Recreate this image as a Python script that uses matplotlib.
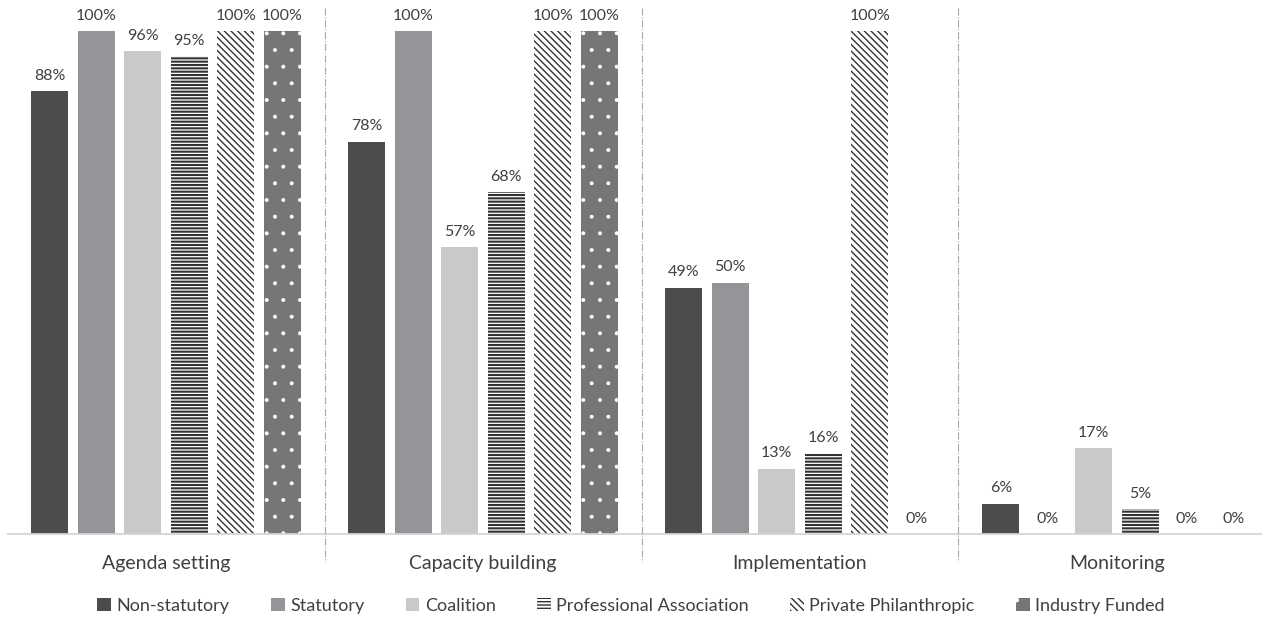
import numpy as np
import matplotlib.pyplot as plt

plt.rcParams['font.family'] = ['Lato', 'DejaVu Sans']

categories = ['Agenda setting', 'Capacity building', 'Implementation', 'Monitoring']
series = ['Non-statutory', 'Statutory', 'Coalition', 'Professional Association',
          'Private Philanthropic', 'Industry Funded']
values = [
    [88, 78, 49, 6],      # Non-statutory
    [100, 100, 50, 0],    # Statutory
    [96, 57, 13, 17],     # Coalition
    [95, 68, 16, 5],      # Professional Association
    [100, 100, 100, 0],   # Private Philanthropic
    [100, 100, 0, 0],     # Industry Funded
]

# face, hatch colour, hatch pattern, hatch linewidth
styles = [
    ('#4b4c4e', None, None, 0),
    ('#939598', None, None, 0),
    ('#c8c9ca', None, None, 0),
    ('white', '#333333', '-----', 1.5),
    ('white', '#333333', '\\\\\\\\\\', 1.0),
    ('#767676', 'white', '.', 0.4),
]

fig = plt.figure(figsize=(12.62, 6.17), dpi=100)
W, H = 1262, 617
x0, grp = 7.5, 317
ax = fig.add_axes([x0 / W, (H - 534) / H, 4 * grp / W, 503 / H])

x = np.arange(len(categories))
step = 46.5 / grp
width = 37 / grp

for i, (name, vals) in enumerate(zip(series, values)):
    face, hcol, hatch, hlw = styles[i]
    pos = x + (i - 2.5) * step
    if hatch:
        with plt.rc_context({'hatch.linewidth': hlw}):
            bars = ax.bar(pos, vals, width, color=face, edgecolor=hcol,
                          hatch=hatch, linewidth=0, label=name)
    else:
        bars = ax.bar(pos, vals, width, color=face, linewidth=0, label=name)
    for b, v in zip(bars, vals):
        ax.annotate(f'{v}%', (b.get_x() + b.get_width() / 2, v),
                    xytext=(0, 6), textcoords='offset points',
                    ha='center', va='bottom', fontsize=11.5, color='#404040',
                    annotation_clip=False)

ax.set_xlim(-0.5, len(categories) - 0.5)
ax.set_ylim(0, 100)
for s in ax.spines.values():
    s.set_visible(False)
ax.set_yticks([])
ax.set_xticks([])

# baseline
fig.add_artist(plt.Line2D([x0 / W, 1], [(H - 534) / H] * 2,
                          color='#d4d4d4', linewidth=1.3))

# group separators
for k in range(1, len(categories)):
    xs = (x0 + k * grp) / W
    fig.add_artist(plt.Line2D([xs, xs], [(H - 8) / H, (H - 562) / H],
                              color='#a8a8a8', linewidth=0.8, linestyle='-.'))

# category labels
for k, c in enumerate(categories):
    fig.text((x0 + (k + 0.5) * grp) / W, (H - 563) / H, c, ha='center',
             va='center', fontsize=14, color='#404040')

leg = fig.legend(loc='center', bbox_to_anchor=(0.5, (H - 606) / H), ncol=6,
                 frameon=False, fontsize=13, handlelength=0.75,
                 handleheight=0.75, handletextpad=0.3, columnspacing=2.3,
                 labelcolor='#404040')

fig.savefig('out.png', dpi=100)
